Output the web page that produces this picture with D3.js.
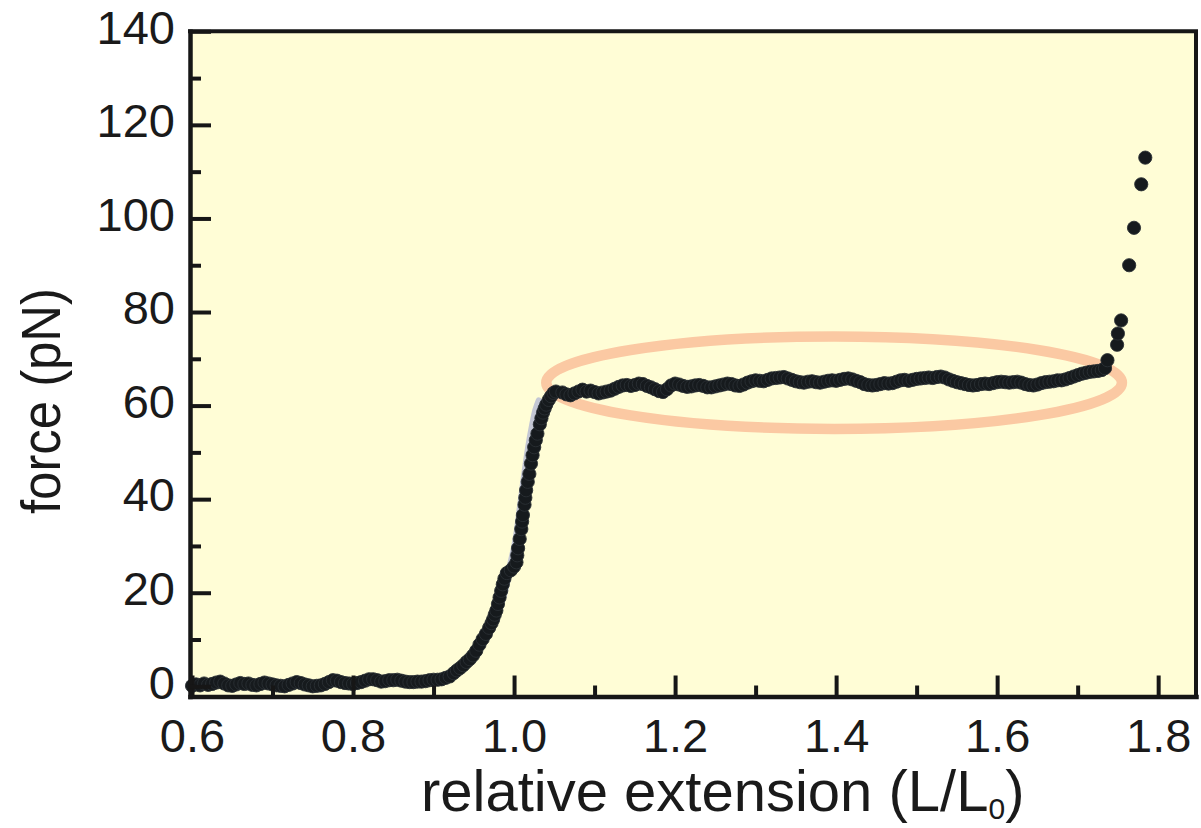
<!DOCTYPE html>
<html><head><meta charset="utf-8">
<script src="https://cdn.jsdelivr.net/npm/d3@7/dist/d3.min.js"></script>
<style>
html,body{margin:0;padding:0;background:#fff;}
svg{display:block;}
text{font-family:"Liberation Sans", Arial, Helvetica, sans-serif; fill:#1a1a1a;}
</style></head><body>
<svg id="chart" width="1201" height="828"></svg>
<script>
// ---- data ----
const extension = [
0.600,0.605,0.610,0.615,0.620,0.625,0.630,0.635,0.640,0.645,0.650,0.655,0.660,0.665,0.670,0.675,0.680,0.685,0.690,0.695,
0.700,0.705,0.710,0.715,0.720,0.725,0.730,0.735,0.740,0.745,0.750,0.755,0.760,0.765,0.770,0.775,0.780,0.785,0.790,0.795,
0.800,0.805,0.810,0.815,0.820,0.825,0.830,0.835,0.840,0.845,0.850,0.855,0.860,0.865,0.870,0.875,0.880,0.885,0.890,0.895,
0.900,0.905,0.910,0.915,0.920,
0.925,0.929,0.933,0.937,0.941,0.945,0.949,0.953,0.957,0.961,0.965,0.969,0.972,0.974,0.976,0.978,0.980,0.982,0.984,0.986,
0.988,0.991,0.996,1.000,1.003,1.004,1.005,1.007,1.009,1.010,1.011,1.013,1.014,1.015,1.017,1.019,1.021,1.023,1.025,1.027,
1.029,1.032,1.034,1.036,1.038,1.040,1.043,1.046,1.049,1.052,
1.060,1.065,1.070,1.075,1.080,1.085,1.090,1.095,1.100,1.105,1.110,1.115,1.120,1.125,1.130,1.135,1.140,1.145,1.150,1.155,
1.160,1.165,1.170,1.175,1.180,1.185,1.190,1.195,1.200,1.205,1.210,1.215,1.220,1.225,1.230,1.235,1.240,1.245,1.250,1.255,
1.260,1.265,1.270,1.275,1.280,1.285,1.290,1.295,1.300,1.305,1.310,1.315,1.320,1.325,1.330,1.335,1.340,1.345,1.350,1.355,
1.360,1.365,1.370,1.375,1.380,1.385,1.390,1.395,1.400,1.405,1.410,1.415,1.420,1.425,1.430,1.435,1.440,1.445,1.450,1.455,
1.460,1.465,1.470,1.475,1.480,1.485,1.490,1.495,1.500,1.505,1.510,1.515,1.520,1.525,1.530,1.535,1.540,1.545,1.550,1.555,
1.560,1.565,1.570,1.575,1.580,1.585,1.590,1.595,1.600,1.605,1.610,1.615,1.620,1.625,1.630,1.635,1.640,1.645,1.650,1.655,
1.660,1.665,1.670,1.675,1.680,1.685,1.690,1.695,1.700,1.705,1.710,1.715,1.720,1.725,1.730,1.734,
1.737,1.749,1.750,1.754,1.764,1.770,1.779,1.784
];
const force = [
0.1,0.4,0.2,0.6,0.3,0.5,0.8,1.0,0.6,0.2,0.1,0.4,0.7,0.5,0.6,0.3,0.2,0.5,0.8,0.6,
0.4,0.2,0.1,0.0,0.3,0.6,0.9,0.7,0.4,0.2,0.0,0.1,0.2,0.5,0.9,1.3,1.2,0.9,0.7,0.6,
0.5,0.7,0.9,1.2,1.5,1.5,1.3,1.0,1.1,1.3,1.3,1.4,1.2,1.0,0.9,0.9,1.0,1.0,1.1,1.3,
1.4,1.4,1.5,1.8,2.1,
2.8,3.4,3.9,4.5,5.2,5.8,6.6,7.6,8.9,10.1,11.2,12.5,13.5,14.3,15.3,16.2,17.6,19.0,20.4,21.8,
23.0,24.2,24.8,25.6,26.5,28.0,29.5,31.5,33.6,35.2,36.6,38.8,40.3,41.9,43.7,45.4,47.6,49.4,51.1,52.6,
54.0,56.0,57.3,58.5,59.4,60.2,61.2,62.0,62.7,63.0,
62.8,62.4,62.2,62.6,63.0,63.4,63.0,63.2,62.9,62.6,62.8,63.0,63.2,63.6,64.0,64.3,64.4,64.2,64.4,64.7,
64.6,64.2,63.9,63.5,63.1,62.9,63.5,64.3,64.7,64.5,64.2,64.0,64.1,64.3,64.4,64.2,63.9,63.9,64.1,64.3,
64.5,64.7,64.6,64.3,64.2,64.5,64.9,65.2,65.4,65.3,65.2,65.5,65.8,65.9,66.0,66.1,65.8,65.5,65.2,65.0,
64.9,65.1,65.2,65.0,64.9,65.1,65.3,65.4,65.3,65.5,65.7,65.8,65.6,65.3,65.0,64.6,64.4,64.3,64.4,64.6,
64.8,64.7,64.8,65.1,65.4,65.5,65.3,65.5,65.7,65.8,65.9,66.0,65.9,66.1,66.2,66.0,65.6,65.3,65.0,64.8,
64.6,64.4,64.3,64.4,64.6,64.7,64.6,64.8,65.0,65.1,65.0,64.9,65.0,65.1,64.9,64.6,64.4,64.3,64.5,64.8,
65.0,65.1,65.2,65.4,65.4,65.6,65.9,66.2,66.5,66.8,67.0,67.2,67.3,67.4,67.6,68.0,
69.7,73.0,75.4,78.2,90.0,98.0,107.3,113.0
];
// smooth fit curve drawn behind the rising part
const fitExtension = [0.877,0.897,0.917,0.932,0.947,0.957,0.967,0.977,0.987,0.995,1.002,1.008,1.013,1.018,1.023,1.027,1.031];
const fitForce     = [1.0,1.5,2.4,3.8,6.0,8.0,10.8,14.5,19.5,25.5,31.0,38.5,45.0,51.0,55.8,59.0,61.0];
// plateau highlight ellipse (data units)
const ellipseCenter = [1.3975, 64.9];
const ellipseRadii = [0.3575, 9.88];
// ticks
const xMajorTicks = [0.6,0.8,1.0,1.2,1.4,1.6,1.8];
const xMinorTicks = [0.7,0.9,1.1,1.3,1.5,1.7];
const xTickLabels = ["0.6","0.8","1.0","1.2","1.4","1.6","1.8"];
const yMajorTicks = [0,20,40,60,80,100,120,140];
const yMinorTicks = [10,30,50,70,90,110,130];
const yTickLabels = ["0","20","40","60","80","100","120","140"];
const xTitle = "relative extension (L/L";
const xTitleSub = "0";
const yTitle = "force (pN)";

// ---- drawing ----
const svg = d3.select("#chart");
const x = d3.scaleLinear().domain([0.5975, 1.847]).range([190, 1196]);
const y = d3.scaleLinear().domain([-2.18, 140]).range([696.5, 31.3]);
const ink = "#161616";

svg.append("rect")
  .attr("x", x.range()[0]).attr("y", y.range()[1])
  .attr("width", x.range()[1]-x.range()[0])
  .attr("height", y.range()[0]-y.range()[1])
  .attr("fill", "#fffdd6");

// fit line
const fitPts = fitExtension.map((e,i)=>[e, fitForce[i]]);
svg.append("path")
  .attr("d", d3.line().x(d=>x(d[0])).y(d=>y(d[1])).curve(d3.curveCatmullRom)(fitPts))
  .attr("fill","none").attr("stroke","#c3c6d3").attr("stroke-width",7).attr("stroke-linecap","round");

// ellipse
svg.append("ellipse")
  .attr("cx", x(ellipseCenter[0])).attr("cy", y(ellipseCenter[1]))
  .attr("rx", x(ellipseCenter[0]+ellipseRadii[0]) - x(ellipseCenter[0]))
  .attr("ry", y(ellipseCenter[1]-ellipseRadii[1]) - y(ellipseCenter[1]))
  .attr("fill","none").attr("stroke","#fbc9a3").attr("stroke-width",10.5);

// points
svg.append("g").selectAll("circle")
  .data(extension.map((e,i)=>[e, force[i]]))
  .join("circle")
  .attr("cx", d=>x(d[0])).attr("cy", d=>y(d[1]))
  .attr("r", 6.6)
  .attr("fill", "#161a1d").attr("stroke","#2a3034").attr("stroke-width",0.9);

// frame (top + right)
svg.append("path")
  .attr("d", `M${x.range()[0]},${y.range()[1]}H${x.range()[1]}V${y.range()[0]}`)
  .attr("fill","none").attr("stroke",ink).attr("stroke-width",4).attr("stroke-linecap","square");

// x axis
const gx = svg.append("g").attr("transform",`translate(0,${y.range()[0]})`);
gx.call(d3.axisBottom(x).tickValues(xMinorTicks).tickSizeInner(-11).tickSizeOuter(0).tickFormat(""));
gx.select(".domain").remove();
const gx2 = svg.append("g").attr("transform",`translate(0,${y.range()[0]})`);
gx2.call(d3.axisBottom(x).tickValues(xMajorTicks).tickSizeInner(-21).tickSizeOuter(0).tickPadding(22)
  .tickFormat((d,i)=>xTickLabels[i]));

// y axis
const gy = svg.append("g").attr("transform",`translate(${x.range()[0]},0)`);
gy.call(d3.axisLeft(y).tickValues(yMinorTicks).tickSizeInner(-11).tickSizeOuter(0).tickFormat(""));
gy.select(".domain").remove();
const gy2 = svg.append("g").attr("transform",`translate(${x.range()[0]},0)`);
gy2.call(d3.axisLeft(y).tickValues(yMajorTicks).tickSizeInner(-21).tickSizeOuter(0).tickPadding(15)
  .tickFormat((d,i)=>yTickLabels[i]));
gy2.selectAll("text").attr("dy","0.25em");

svg.selectAll(".tick line").attr("stroke",ink).attr("stroke-width",4);
svg.selectAll(".domain").attr("stroke",ink).attr("stroke-width",4.5).attr("stroke-linecap","square");
svg.selectAll(".tick text").attr("font-size",47).attr("fill","#1a1a1a")
  .style("font-family",'"Liberation Sans", Arial, sans-serif');

// titles
const xt = svg.append("text").attr("x",421).attr("y",811).attr("font-size",58);
xt.append("tspan").text(xTitle);
xt.append("tspan").attr("font-size",30).attr("dy",8).text(xTitleSub);
xt.append("tspan").attr("dy",-8).text(")");

svg.append("text")
  .attr("transform","translate(60,401) rotate(-90)")
  .attr("text-anchor","middle")
  .attr("font-size",55)
  .attr("textLength",226).attr("lengthAdjust","spacingAndGlyphs")
  .text(yTitle);
</script>
</body></html>
